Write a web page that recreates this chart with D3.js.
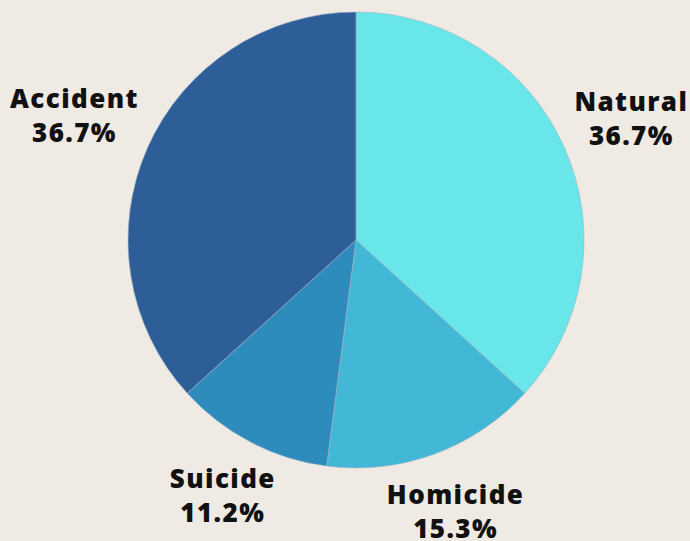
<!DOCTYPE html>
<html>
<head>
<meta charset="utf-8">
<script src="https://cdn.jsdelivr.net/npm/d3@7"></script>
<style>
  html, body { margin: 0; padding: 0; background: #efeae3; }
  svg { display: block; }
</style>
</head>
<body>
<svg id="chart" width="690" height="541"></svg>
<script>
// Manner of death shares (percent)
const categories = ["Natural", "Homicide", "Suicide", "Accident"];
const values = [36.7, 15.3, 11.2, 36.7];
const colors = ["#69e6e9", "#42b7d6", "#2e8cbc", "#2e5e98"];

const width = 690, height = 541;
const cx = 356, cy = 240, radius = 228, labelGap = 9;

const svg = d3.select("#chart");
svg.append("rect").attr("width", width).attr("height", height).attr("fill", "#efeae3");

const data = categories.map((c, i) => ({ name: c, value: values[i], color: colors[i] }));

const pie = d3.pie().sort(null).value(d => d.value);
const arc = d3.arc().innerRadius(0).outerRadius(radius);

const g = svg.append("g").attr("transform", `translate(${cx},${cy})`);
const arcs = pie(data);

g.selectAll("path.slice")
  .data(arcs)
  .join("path")
  .attr("class", "slice")
  .attr("d", arc)
  .attr("fill", d => d.data.color)
  .attr("stroke", "#9fb4c4")
  .attr("stroke-width", 0.6);

// Two-line labels placed just outside the rim, pushed out by their own box size
const labels = g.selectAll("text.label")
  .data(arcs)
  .join("text")
  .attr("class", "label")
  .attr("text-anchor", "middle")
  .attr("font-family", "'Open Sans', sans-serif")
  .attr("font-weight", 800)
  .attr("font-size", 26)
  .attr("letter-spacing", 1.4)
  .attr("fill", "#111");

labels.append("tspan")
  .attr("x", 0)
  .attr("y", 0)
  .text(d => d.data.name);
labels.append("tspan")
  .attr("x", 0)
  .attr("y", 34)
  .text(d => d.data.value.toFixed(1) + "%");

labels.each(function(d) {
  const bb = this.getBBox();
  const a = (d.startAngle + d.endAngle) / 2;
  const sx = Math.sin(a), sy = -Math.cos(a);
  const hw = bb.width / 2, hh = bb.height / 2;
  const r = radius + labelGap + hw * Math.abs(sx) + 0.85 * hh * Math.abs(sy);
  const px = sx * r, py = sy * r;
  const bcx = bb.x + hw, bcy = bb.y + hh;
  d3.select(this).attr("transform", `translate(${px - bcx},${py - bcy})`);
});
</script>
</body>
</html>
